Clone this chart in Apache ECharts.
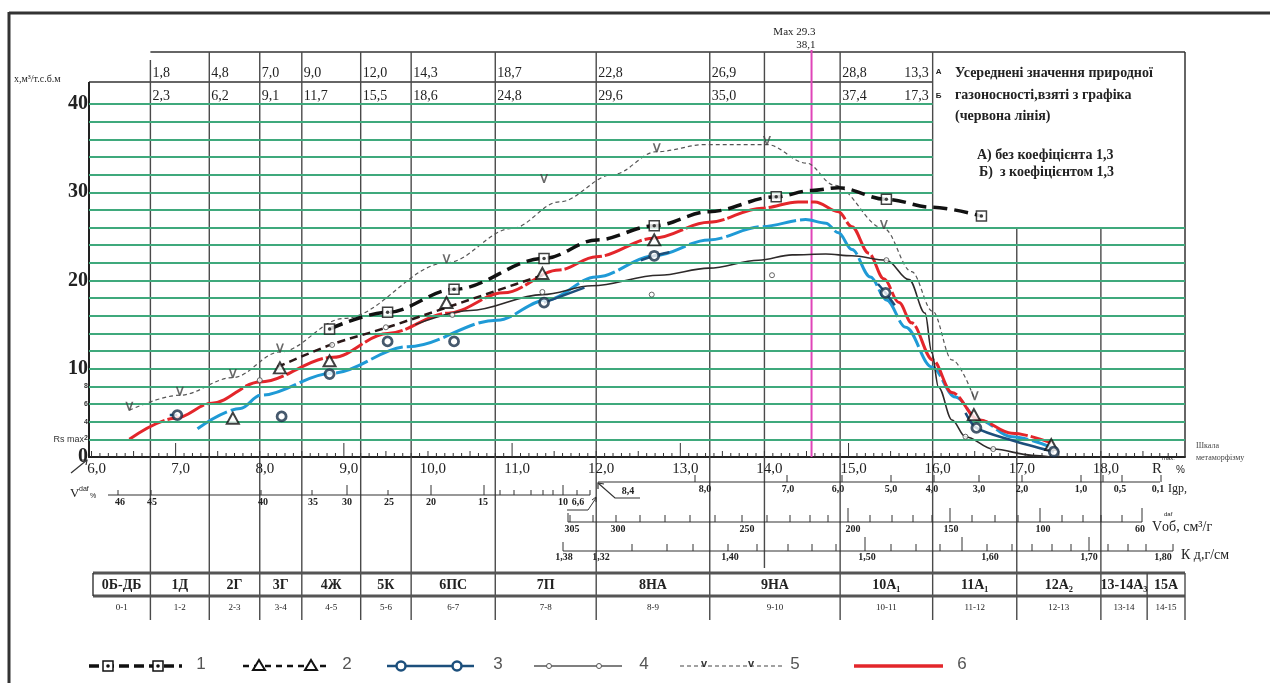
<!DOCTYPE html>
<html><head><meta charset="utf-8">
<script src="https://cdn.jsdelivr.net/npm/echarts@6/dist/echarts.min.js"></script>
<style>html,body{margin:0;padding:0;background:#fff}#c{width:1270px;height:683px}</style>
</head><body><div id="c"></div>
<script>
// ================= DATA =================
// R scale (reflectance, %) tick labels
const rValues = [6,7,8,9,10,11,12,13,14,15,16,17,18];
const rLabels = ['6,0','7,0','8,0','9,0','10,0','11,0','12,0','13,0','14,0','15,0','16,0','17,0','18,0'];
// header: averaged natural gas content A) without / Б) with coefficient 1.3
const headerA = ['1,8','4,8','7,0','9,0','12,0','14,3','18,7','22,8','26,9','28,8','13,3'];
const headerB = ['2,3','6,2','9,1','11,7','15,5','18,6','24,8','29,6','35,0','37,4','17,3'];
// metamorphism classes
const classNames  = ['0Б-ДБ','1Д','2Г','3Г','4Ж','5К','6ПС','7П','8НА','9НА','10А₁','11А₁','12А₂','13-14А₃','15А'];
const classRanges = ['0-1','1-2','2-3','3-4','4-5','5-6','6-7','7-8','8-9','9-10','10-11','11-12','12-13','13-14','14-15'];
// auxiliary scales tick labels
const vdafLabels = ['46','45','40','35','30','25','20','15','10'];
const lgpLabels  = ['8,0','7,0','6,0','5,0','4,0','3,0','2,0','1,0','0,5','0,1'];
const vobLabels  = ['305','300','250','200','150','100','60'];
const kLabels    = ['1,38','1,32','1,40','1,50','1,60','1,70','1,80'];

// series 1 (thick dashed, squares)
const s1Line = [[8.83,14.5],[9.52,16.4],[10.31,19.0],[11.38,22.5],[12.01,24.6],[12.69,26.2],[13.34,27.8],[14.14,29.5],[14.56,30.2],[14.88,30.5],[15.45,29.2],[15.99,28.3],[16.58,27.3]];
const s1Pts  = [[8.83,14.5],[9.52,16.4],[10.31,19.0],[11.38,22.5],[12.69,26.2],[14.14,29.5],[15.45,29.2],[16.58,27.3]];
// series 2 (dashed, triangles)
const s2Line = [[8.21,10.2],[8.84,12.7],[9.52,14.7],[10.24,17.0],[10.8,18.8],[11.36,20.6]];
const s2Pts  = [[7.68,4.4],[8.24,10.1],[8.83,10.9],[10.22,17.5],[11.36,20.8],[12.69,24.6],[16.49,4.8],[17.41,1.4]];
// series 3 (dark blue, circles) - visible segments
const s3Segs = [
  [[6.93,4.75],[7.02,4.75]],
  [[11.38,17.5],[11.86,19.2]],
  [[12.53,22.3],[12.69,22.8],[12.87,23.2]],
  [[15.35,19.6],[15.44,18.6],[15.55,17.2]],
  [[16.39,5.0],[16.52,3.3],[16.94,1.9],[17.44,0.6]]
];
const s3Pts = [[7.02,4.75],[8.26,4.6],[8.83,9.4],[9.52,13.1],[10.31,13.1],[11.38,17.5],[12.69,22.8],[15.44,18.6],[16.52,3.3],[17.44,0.6]];
// series 4 (thin line, small circles)
const s4Line = [[9.85,15.0],[10.5,16.6],[11.36,18.4],[11.95,19.4],[12.75,20.6],[13.34,21.4],[13.93,22.3],[14.33,22.9],[14.73,23.0],[15.04,22.8],[15.45,22.3],[15.72,20.1],[15.91,16.3],[15.99,11.8],[16.07,7.9],[16.23,4.2],[16.39,2.3],[16.72,0.9],[17.18,0.2],[17.41,0.0]];
const s4Pts  = [[8.0,8.7],[8.86,12.7],[9.5,14.7],[10.29,16.1],[11.36,18.7],[12.66,18.4],[14.09,20.6],[15.45,22.3],[16.39,2.3],[16.72,0.9]];
// series 5 (thin dashed, "v")
const s5Line = [[6.45,5.3],[7.05,7.0],[7.68,9.0],[8.24,11.9],[9.0,15.7],[10.22,22.0],[11.0,25.9],[11.56,28.9],[12.2,32.0],[12.72,34.6],[13.3,35.4],[14.03,35.4],[14.5,33.3],[14.83,30.8],[15.42,25.9],[15.75,21.0],[16.0,16.5],[16.23,11.0],[16.5,6.5]];
const s5Pts  = [[6.45,5.3],[7.05,7.0],[7.68,9.0],[8.24,11.9],[10.22,22.0],[11.38,31.1],[12.72,34.6],[14.03,35.4],[15.42,25.9],[16.5,6.5]];
// series 6 (red, averaged)
const s6Line = [[6.45,2.0],[7.0,4.4],[7.43,6.1],[8.0,8.5],[8.87,11.3],[9.52,14.0],[10.24,16.3],[10.9,18.6],[11.56,21.2],[12.0,22.7],[12.69,24.8],[13.34,26.6],[13.97,28.2],[14.4,28.9],[14.6,28.9],[14.88,27.8],[15.04,26.1],[15.24,23.1],[15.42,20.2],[15.6,17.5],[15.75,15.2],[16.0,11.0],[16.23,7.3],[16.55,4.2],[16.94,2.7],[17.41,1.6]];
// blue line (variant)
const blueLine = [[7.26,3.2],[7.77,5.5],[8.01,7.0],[8.86,9.5],[9.76,12.5],[10.82,15.5],[11.41,17.8],[12.0,20.4],[12.69,22.8],[13.34,24.6],[13.97,26.1],[14.49,26.9],[14.73,26.5],[14.88,25.4],[15.04,23.5],[15.26,20.4],[15.45,17.8],[15.68,14.7],[15.99,10.2],[16.27,6.8],[16.55,4.2],[16.94,2.3],[17.41,1.1]];
const maxR = 14.56;

// ================= LAYOUT / STYLE =================
const SERIF = '"Liberation Serif","DejaVu Serif",serif';
const SANS = '"Liberation Sans","DejaVu Sans",sans-serif';
const GREEN = '#3fa97c';
const GRIDV = '#4a4a4a';
const colR = [6.7,7.4,8.0,8.5,9.2,9.8,10.8,12.0,13.35,14.9,16.0];
const tableR = [6.7,7.4,8.0,8.5,9.2,9.8,10.8,12.0,13.35,14.9,16.0,17.0,18.0,18.55,19.0];
const vdafX = [120,152,263,313,347,389,431,483,563];
const vdafTicks = [118,151,261,312,347,388,431,484,500,514,531,543,553,563,577,590];
const lgpX = [705,788,838,891,932,979,1022,1081,1120,1158];
const lgpTicks = [695,787,842,891,934,979,1022,1081,1103,1122,1161];
const vobX = [572,618,747,853,951,1043,1140];
const vobTicks = [570,593,616,640,665,690,715,742,767,790,810,828,848,870,892,913,932,950,972,995,1018,1040,1062,1083,1101,1122,1142];
const kX = [564,601,730,867,990,1089,1163];
const kTicks = [632,667,693,728,757,788,812,836,865,891,916,940,962,987,1012,1032,1052,1071,1089,1108,1128,1146,1173];

const chart = echarts.init(document.getElementById('c'), null, {renderer:'canvas'});

const greenData = [];
for (let v = 2; v <= 40; v += 2) greenData.push([{coord:[5.97, v]}, {coord:[v > 26 ? 16.0 : 19.0, v]}]);

const vPath = 'path://M0,0L2.2,0L5,8L7.8,0L10,0L6,11L4,11Z';

const series = [
  {type:'line', data:[[6,0]], symbol:'none', lineStyle:{width:0}, z:1, silent:true,
   markLine:{silent:true, symbol:['none','none'], label:{show:false}, animation:false,
     lineStyle:{color:GREEN, width:2, type:'solid'}, emphasis:{disabled:true}, data:greenData}},
  {name:'blue', type:'line', data:blueLine, smooth:0.35, smoothMonotone:'x', symbol:'none', z:3,
   lineStyle:{color:'#1f9ad6', width:3, type:[34,4]}},
  {name:'6', type:'line', data:s6Line, smooth:0.35, smoothMonotone:'x', symbol:'none', z:4,
   lineStyle:{color:'#e3262b', width:3, type:[40,3]}},
  {name:'4', type:'line', data:s4Line, smooth:0.35, smoothMonotone:'x', symbol:'none', z:4,
   lineStyle:{color:'#2e2a2a', width:1.6}},
  {name:'2', type:'line', data:s2Line, smooth:0.3, symbol:'none', z:5,
   lineStyle:{color:'#2b1818', width:2.5, type:[8,5]}},
  {name:'1', type:'line', data:s1Line, smooth:0.35, smoothMonotone:'x', symbol:'none', z:5,
   lineStyle:{color:'#111', width:3.5, type:[14,7]}},
  {name:'5', type:'line', data:s5Line, smooth:0.35, smoothMonotone:'x', symbol:'none', z:4,
   lineStyle:{color:'#555', width:1.2, type:[4,3]}},
];
s3Segs.forEach(seg => series.push({name:'3', type:'line', data:seg, smooth:0.3, symbol:'none', z:5,
   lineStyle:{color:'#1c4f7c', width:2.5}}));
series.push(
  {type:'scatter', data:s1Pts, symbol:'rect', symbolSize:10, z:7,
   itemStyle:{color:'#fff', borderColor:'#111', borderWidth:1.5}},
  {type:'scatter', data:s1Pts, symbol:'circle', symbolSize:3.5, z:8, itemStyle:{color:'#111'}},
  {type:'scatter', data:s2Pts, symbol:'triangle', symbolSize:[12,11], z:7,
   itemStyle:{color:'#fff', borderColor:'#111', borderWidth:2}},
  {type:'scatter', data:s3Pts, symbol:'circle', symbolSize:9, z:7,
   itemStyle:{color:'#fff', borderColor:'#182f48', borderWidth:2.8}},
  {type:'scatter', data:s4Pts, symbol:'circle', symbolSize:5, z:7,
   itemStyle:{color:'#fff', borderColor:'#444', borderWidth:1}},
  {type:'scatter', data:s5Pts, symbol:vPath, symbolSize:[8,9], symbolOffset:[0,-4], z:7,
   itemStyle:{color:'#444'}}
);

chart.setOption({
  animation:false,
  backgroundColor:'#fff',
  grid:{left:89, right:85, top:104, bottom:226, containLabel:false},
  xAxis:{type:'value', min:5.97, max:19, axisLine:{show:true, lineStyle:{color:'#222', width:2}},
    axisTick:{show:false}, axisLabel:{show:false}, splitLine:{show:false}},
  yAxis:{type:'value', min:0, max:40, interval:2,
    axisLine:{show:true, lineStyle:{color:'#222', width:2}}, axisTick:{show:false}, splitLine:{show:false},
    axisLabel:{margin:1, formatter: v => {
        if (v % 10 === 0) return '{b|' + v + '}';
        if (v === 2) return '{r|Rs max}{s|2}';
        if (v <= 8) return '{s|' + v + '}';
        return '';
      },
      rich:{
        b:{fontFamily:SERIF, fontWeight:'bold', fontSize:20, color:'#222'},
        s:{fontFamily:SANS, fontWeight:'bold', fontSize:7, color:'#333', verticalAlign:'top'},
        r:{fontFamily:SANS, fontSize:9, color:'#333'}
      }}},
  series: series
});

// ================= DECORATIONS =================
const X = R => chart.convertToPixel({gridIndex:0}, [R, 0])[0];
const Y = v => chart.convertToPixel({gridIndex:0}, [6, v])[1];
const y0 = Y(0);
const G = [];
function L(x1,y1,x2,y2,color,w,dash){ G.push({type:'line', silent:true, z:1, shape:{x1,y1,x2,y2}, style:{stroke:color||'#333', lineWidth:w||1, lineDash:dash||null}}); }
function P(points,color,w,dash,fill){ G.push({type:'polyline', silent:true, z:1, shape:{points}, style:{stroke:color||'#333', lineWidth:w||1, lineDash:dash||null, fill:fill||null}}); }
function T(x,y,text,font,align,color,va,z){ G.push({type:'text', silent:true, z:z||6, x, y, style:{text, font, fill:color||'#222', align:align||'left', verticalAlign:va||'middle', textAlign:align||'left', textVerticalAlign:va||'middle'}}); }
function poly(points, fill, stroke, w){ G.push({type:'polygon', silent:true, z:8, shape:{points}, style:{fill:fill, stroke:stroke, lineWidth:w||1}}); }

// outer frame
L(9,13,1270,13,'#333',3); L(9,12,9,683,'#333',3);

// header box
const topY = 52, rowY = 82;
L(X(6.7), topY, X(19), topY, '#333', 1.5);
L(89, rowY, X(16.0), rowY, '#333', 1.5);
L(89, rowY, 89, 105, '#222', 2);
// column lines
[6.7,7.4,8.0,8.5,9.2,9.8,10.8,12.0,13.35,14.9,16.0].forEach(r => L(X(r), r===6.7?60:topY, X(r), 620, GRIDV, 1.4));
L(X(14.0), topY, X(14.0), 568, GRIDV, 1.4);
L(X(17.0), Y(26), X(17.0), 620, GRIDV, 1.4);
L(X(18.0), Y(26), X(18.0), 620, GRIDV, 1.4);
L(X(19.0), topY, X(19.0), y0, '#333', 1.5);
// header values
const hdrR = [6.7,7.4,8.0,8.5,9.2,9.8,10.8,12.0,13.35,14.9,16.0];
hdrR.forEach((r,i) => {
  const last = i === hdrR.length - 1;
  const x = last ? X(r) - 4 : X(r) + 2;
  T(x, 73, headerA[i], '14px ' + SERIF, last ? 'right' : 'left');
  T(x, 96, headerB[i], '14px ' + SERIF, last ? 'right' : 'left');
});
T(X(16.0)+3, 72, 'А', 'bold 8px ' + SANS, 'left');
T(X(16.0)+3, 96, 'Б', 'bold 8px ' + SANS, 'left');
T(14, 79, 'x,м³/т.с.б.м', '10px ' + SERIF, 'left', '#222');
// annotation
const AF = 'bold 14px ' + SERIF;
T(955, 73, 'Усереднені значення природної', AF);
T(955, 95, 'газоносності,взяті з графіка', AF);
T(955, 116, '(червона лінія)', AF);
T(977, 155, 'А) без коефіцієнта 1,3', AF);
T(979, 172, 'Б)  з коефіцієнтом 1,3', AF);
// max marker
L(X(maxR), 50, X(maxR), y0, '#df45b8', 2);
T(X(maxR)+4, 32, 'Max 29.3', '11px ' + SERIF, 'right');
T(X(maxR)+4, 45, '38,1', '11px ' + SERIF, 'right');

// R scale ticks & labels
for (let i = 60; i <= 189; i++) {
  const x = X(i/10);
  let h = 4;
  if (i % 5 === 0) h = 6;
  if (i % 10 === 0 && (i/10) % 2 === 1 && i >= 70 && i <= 150) h = 14;
  L(x, y0, x, y0 - h, '#333', 1);
}
rValues.forEach((r,i) => T(X(r)+5, 469, rLabels[i], '15px ' + SERIF, 'center'));
P([[71,473],[87,460]], '#333', 1.2);
P([[82,460],[87,460],[86,465]], '#333', 1.2);
T(1152, 469, 'R', '15px ' + SERIF, 'left');
T(1162, 458, 'max.', '6px ' + SANS, 'left');
T(1176, 470, '%', '10px ' + SANS, 'left');
T(1196, 446, 'Шкала', '8px ' + SERIF, 'left', '#444');
T(1196, 458, 'метаморфізму', '8px ' + SERIF, 'left', '#444');

const SF = 'bold 10px ' + SERIF;
// Vdaf scale
const vY = 495;
L(108, vY, 590, vY, '#333', 1.2);
vdafTicks.forEach(x => L(x, vY, x, vY - ([347,431,484,563].includes(x) ? 10 : 5), '#333', 1));
vdafLabels.forEach((t,i) => T(vdafX[i], 502, t, SF, 'center'));
T(70, 494, 'V', '13px ' + SERIF, 'left');
T(79, 489, 'daf', '7px ' + SANS, 'left');
T(90, 496, '%', '7px ' + SANS, 'left');
T(578, 502, '6,6', SF, 'center');
P([[567,510],[588,510],[596,498]], '#333', 1);
P([[592,500],[596,497],[596,502]], '#333', 1);
// lgp scale
const gY = 482;
L(598, gY, 1160, gY, '#333', 1.2);
lgpTicks.forEach(x => L(x, gY, x, gY - 7, '#333', 1));
lgpLabels.forEach((t,i) => T(lgpX[i], 489, t, SF, 'center'));
T(1168, 489, 'Igp,', '12px ' + SERIF, 'left');
P([[598,483],[615,498],[640,498]], '#333', 1.2);
P([[598,489],[598,483],[604,484]], '#333', 1.2);
T(628, 491, '8,4', SF, 'center');
// Vob scale
const oY = 522;
L(568, oY, 1142, oY, '#333', 1.2);
L(568, oY - 9, 568, oY, '#333', 1);
vobTicks.forEach(x => L(x, oY, x, oY - ([848,950,1040,1142].includes(x) ? 14 : 7), '#333', 1));
vobLabels.forEach((t,i) => T(vobX[i], 529, t, SF, 'center'));
T(1152, 527, 'Vоб, см³/г', '14px ' + SERIF, 'left');
T(1164, 514, 'daf', '6px ' + SANS, 'left');
// K scale
const kY = 551;
L(563, kY, 1173, kY, '#333', 1.2);
L(563, kY - 9, 563, kY, '#333', 1);
kTicks.forEach(x => L(x, kY, x, kY - ([865,962,1089].includes(x) ? 14 : 7), '#333', 1));
kLabels.forEach((t,i) => T(kX[i], 557, t, SF, 'center'));
T(1181, 555, 'К д,г/см', '14px ' + SERIF, 'left');

// classes table
const tT = 573, tM = 596, tB = 620;
L(93, tT, 1185, tT, '#555', 3);
L(93, tM, 1185, tM, '#555', 3);
L(93, tT, 93, tM, '#333', 1.4);
L(X(18.55), tT, X(18.55), tB, GRIDV, 1.4);
L(X(19.0), tT, X(19.0), tB, GRIDV, 1.4);
const bounds = [93].concat(tableR.map(r => X(r)));
classNames.forEach((n,i) => {
  const cx = (bounds[i] + bounds[i+1]) / 2;
  T(cx, 585, n, 'bold 14px ' + SERIF, 'center');
  T(cx, 608, classRanges[i], '9px ' + SERIF, 'center');
});

// legend
const LY = 666;
L(89, LY, 182, LY, '#111', 3.5, [10,5]);
[108,158].forEach(x => { G.push({type:'rect', silent:true, z:8, shape:{x:x-5,y:LY-5,width:10,height:10}, style:{fill:'#fff', stroke:'#111', lineWidth:1.5}}); G.push({type:'circle', silent:true, z:9, shape:{cx:x,cy:LY,r:1.8}, style:{fill:'#111'}}); });
L(243, LY, 328, LY, '#111', 2.5, [6,5]);
[259,311].forEach(x => poly([[x,LY-6],[x+6,LY+4],[x-6,LY+4]], '#fff', '#111', 2));
L(387, LY, 474, LY, '#1c4f7c', 2.5);
[401,457].forEach(x => G.push({type:'circle', silent:true, z:8, shape:{cx:x,cy:LY,r:4.5}, style:{fill:'#fff', stroke:'#1c4f7c', lineWidth:2.5}}));
L(534, LY, 622, LY, '#555', 1.5);
[549,599].forEach(x => G.push({type:'circle', silent:true, z:8, shape:{cx:x,cy:LY,r:2.5}, style:{fill:'#fff', stroke:'#555', lineWidth:1}}));
L(680, LY, 784, LY, '#444', 1.2, [4,3]);
[704,751].forEach(x => T(x, LY - 2, 'v', 'bold 11px ' + SANS, 'center', '#333', 'middle', 9));
L(854, LY, 943, LY, '#e3262b', 3.5);
['1','2','3','4','5','6'].forEach((t,i) => T([201,347,498,644,795,962][i], LY - 2, t, '17px ' + SANS, 'center', '#555'));

chart.setOption({graphic:{elements:G}});
</script></body></html>
